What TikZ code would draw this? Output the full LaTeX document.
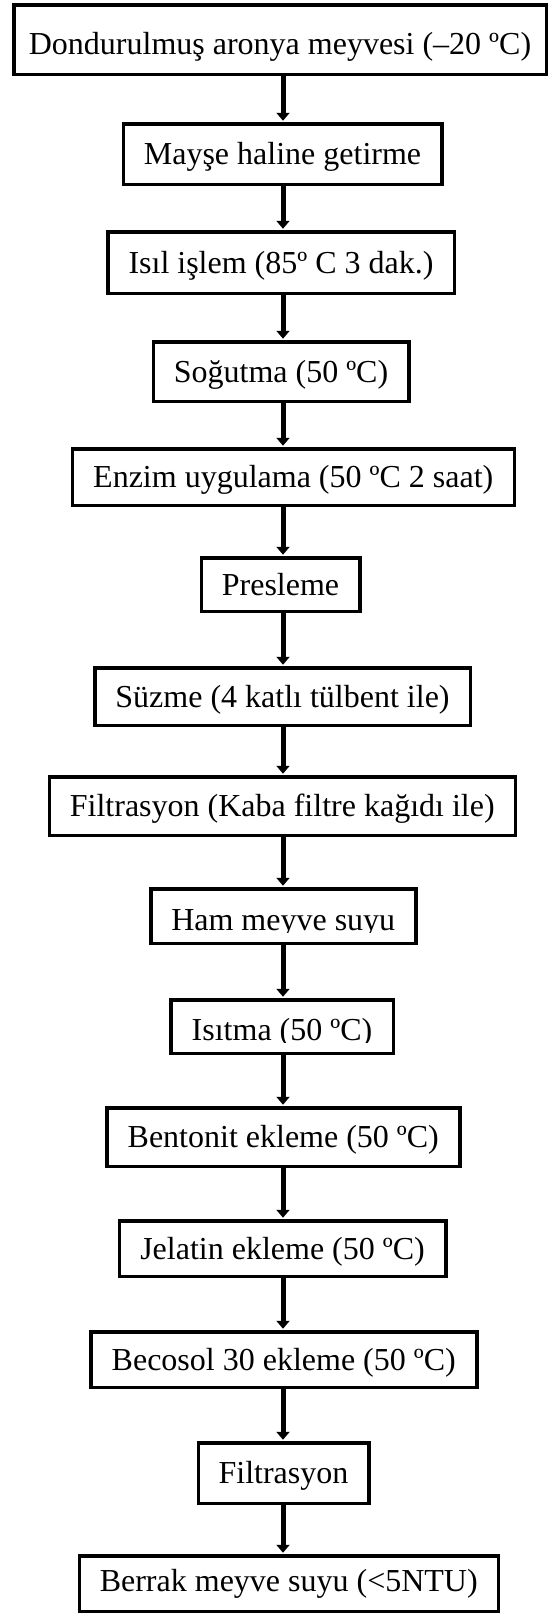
\documentclass[tikz,border=0pt]{standalone}
\usepackage{fontspec}
\setmainfont{Liberation Serif}
\usetikzlibrary{arrows.meta}
\begin{document}
\begin{tikzpicture}[x=1pt,y=1pt,
 box/.style={draw, line width=3.5pt, rectangle, inner sep=0pt, outer sep=0pt,
   font=\fontsize{32}{38}\selectfont, text height=21pt, text depth=0pt},
 label/.style={inner sep=0pt, outer sep=0pt, font=\fontsize{32}{38}\selectfont, text height=21pt, text depth=0pt},
 flow/.style={-{Triangle[width=13pt,length=8pt]}, line width=5pt, shorten >=3pt}]
\useasboundingbox (0,0) rectangle (549,-1614);
\coordinate (ax) at (283,0);
\node[box, minimum width=532.5pt, minimum height=69.5pt, text height=30pt] (b1) at (280,-39.5) {Dondurulmuş aronya meyvesi (–20 ºC)};
\node[box, minimum width=318.5pt, minimum height=60.5pt] (b2) at (282.5,-154) {Mayşe haline getirme};
\node[box, minimum width=346.5pt, minimum height=61.5pt] (b3) at (281,-262.5) {Isıl işlem (85º C 3 dak.)};
\node[box, minimum width=255.5pt, minimum height=59.5pt] (b4) at (281,-371.5) {Soğutma (50 ºC)};
\node[box, minimum width=442pt, minimum height=56.5pt] (b5) at (293.25,-477) {Enzim uygulama (50 ºC 2 saat)};
\node[box, minimum width=158.5pt, minimum height=53.5pt] (b6) at (280.5,-584.5) {Presleme};
\node[box, minimum width=375.5pt, minimum height=57.5pt] (b7) at (282.5,-696.5) {Süzme (4 katlı tülbent ile)};
\node[box, minimum width=466pt, minimum height=58.5pt] (b8) at (282.25,-806) {Filtrasyon (Kaba filtre kağıdı ile)};
\node[box, minimum width=265pt, minimum height=54.5pt] (b9) at (283.25,-916) {};
\begin{scope}
\clip (b9.north west) rectangle (b9.east |- 0,-932.5);
\node[label] (t9) at (283.25,-919.5) {Ham meyve suyu};
\end{scope}
\node[box, minimum width=222.5pt, minimum height=53.5pt] (b10) at (282,-1026.5) {};
\begin{scope}
\clip (b10.north west) rectangle (b10.east |- 0,-1042);
\node[label] (t10) at (282,-1029.5) {Isıtma (50 ºC)};
\end{scope}
\node[box, minimum width=353pt, minimum height=58.5pt] (b11) at (283.25,-1137) {Bentonit ekleme (50 ºC)};
\node[box, minimum width=326.5pt, minimum height=55.5pt] (b12) at (282.5,-1248.5) {Jelatin ekleme (50 ºC)};
\node[box, minimum width=386pt, minimum height=55.5pt] (b13) at (283.75,-1359.5) {Becosol 30 ekleme (50 ºC)};
\node[box, minimum width=170.5pt, minimum height=60.5pt] (b14) at (283.5,-1473) {Filtrasyon};
\node[box, minimum width=419pt, minimum height=55.5pt, text depth=5pt] (b15) at (288.75,-1583.5) {Berrak meyve suyu (<5NTU)};
\foreach \a/\b in {b1/b2,b2/b3,b3/b4,b4/b5,b5/b6,b6/b7,b7/b8,b8/b9,b9/b10,b10/b11,b11/b12,b12/b13,b13/b14,b14/b15}
  \draw[flow] (\a.south -| ax) -- (\b.north -| ax);
\end{tikzpicture}
\end{document}
